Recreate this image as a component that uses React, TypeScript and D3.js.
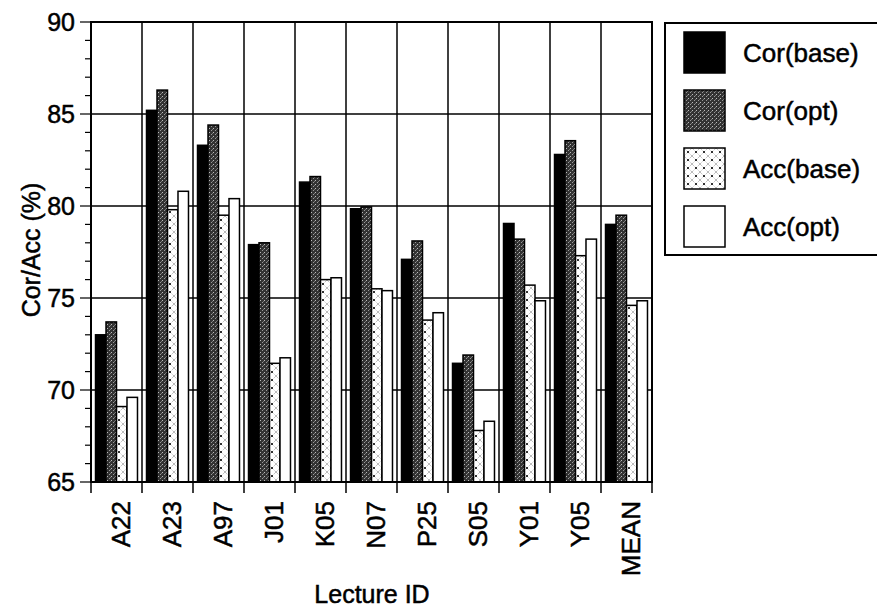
import React from "react";
import * as d3 from "d3";

const lectures = ["A22", "A23", "A97", "J01", "K05", "N07", "P25", "S05", "Y01", "Y05", "MEAN"];
const series = ["Cor(base)", "Cor(opt)", "Acc(base)", "Acc(opt)"];
const corBase = [73.0, 85.2, 83.3, 77.9, 81.3, 79.85, 77.1, 71.45, 79.05, 82.8, 79.0];
const corOpt = [73.7, 86.3, 84.4, 78.0, 81.6, 79.95, 78.1, 71.9, 78.2, 83.55, 79.5];
const accBase = [69.1, 79.8, 79.5, 71.45, 76.0, 75.5, 73.8, 67.8, 75.7, 77.3, 74.6];
const accOpt = [69.6, 80.8, 80.4, 71.75, 76.1, 75.4, 74.2, 68.3, 74.85, 78.2, 74.85];
const yTicks = [65, 70, 75, 80, 85, 90];

const values = [corBase, corOpt, accBase, accOpt];
const fills = ["#000", "url(#stipple)", "url(#xhatch)", "#fff"];

const W = 877;
const H = 607;
const m = { left: 91, right: 652, top: 22, bottom: 482 };
const font = "Liberation Sans, Arial, sans-serif";
// scanned text looks heavy, give it a thin outline
const ink = { fill: "#000", stroke: "#000", strokeWidth: 0.5 };

export default function App() {
  const x0 = d3.scaleBand().domain(lectures).range([m.left, m.right]).padding(0);
  const x1 = d3
    .scaleBand()
    .domain(series)
    .range([0, x0.bandwidth()])
    .paddingInner(0)
    .paddingOuter(0.43);
  const y = d3.scaleLinear().domain([65, 90]).range([m.bottom, m.top]);
  const minor = d3.range(65, 91, 1);
  const bounds = d3.range(0, lectures.length + 1).map((i) => m.left + i * x0.step());

  return (
    <svg
      width={W}
      height={H}
      style={{ position: "absolute", left: 0, top: 0, background: "#fff" }}
      fontFamily={font}
    >
      <defs>
        <pattern id="stipple" width="4" height="4" patternUnits="userSpaceOnUse">
          <rect width="4" height="4" fill="#333" />
          <rect x="0" y="0" width="1" height="1" fill="#bbb" />
          <rect x="2" y="2" width="1" height="1" fill="#999" />
          <rect x="3" y="1" width="1" height="1" fill="#777" />
        </pattern>
        <pattern id="xhatch" width="8" height="8" patternUnits="userSpaceOnUse">
          <rect width="8" height="8" fill="#fff" />
          <path d="M0,0 L8,8 M8,0 L0,8" stroke="#888" strokeWidth="0.8" strokeDasharray="1,1" />
          <circle cx="4" cy="4" r="1" fill="#000" />
        </pattern>
      </defs>

      {/* gridlines */}
      {yTicks.slice(1, -1).map((t) => (
        <line key={"h" + t} x1={m.left} x2={m.right} y1={y(t)} y2={y(t)} stroke="#000" strokeWidth={1.5} />
      ))}
      {bounds.slice(1, -1).map((bx, i) => (
        <line key={"v" + i} x1={bx} x2={bx} y1={m.top} y2={m.bottom} stroke="#000" strokeWidth={1.5} />
      ))}

      {/* bars */}
      {lectures.map((lec, i) => (
        <g key={lec} transform={`translate(${x0(lec)},0)`}>
          {series.map((s, j) => (
            <rect
              key={s}
              x={x1(s)}
              y={y(values[j][i])}
              width={x1.bandwidth()}
              height={m.bottom - y(values[j][i])}
              fill={fills[j]}
              stroke="#000"
              strokeWidth={1.5}
            />
          ))}
        </g>
      ))}

      {/* frame */}
      <rect
        x={m.left}
        y={m.top}
        width={m.right - m.left}
        height={m.bottom - m.top}
        fill="none"
        stroke="#000"
        strokeWidth={2}
      />

      {/* y axis ticks */}
      {minor.map((t) => (
        <line
          key={"mt" + t}
          x1={t % 5 === 0 ? 80 : 85}
          x2={m.left}
          y1={y(t)}
          y2={y(t)}
          stroke="#000"
          strokeWidth={1.2}
        />
      ))}
      {yTicks.map((t) => (
        <text key={"yl" + t} x={75} y={y(t)} dy="0.36em" textAnchor="end" fontSize={25} {...ink}>
          {t}
        </text>
      ))}

      {/* x axis ticks */}
      {bounds.map((bx, i) => (
        <line key={"xt" + i} x1={bx} x2={bx} y1={m.bottom} y2={m.bottom + 11} stroke="#000" strokeWidth={1.5} />
      ))}
      {lectures.map((lec) => (
        <text
          key={"xl" + lec}
          transform={`translate(${(x0(lec) as number) + x0.bandwidth() / 2 + 13},501) rotate(-90)`}
          textAnchor="end"
          fontSize={26}
          {...ink}
        >
          {lec}
        </text>
      ))}

      {/* axis titles */}
      <text transform="translate(40,250) rotate(-90)" textAnchor="middle" fontSize={25} {...ink}>
        Cor/Acc (%)
      </text>
      <text x={372} y={603} textAnchor="middle" fontSize={25} {...ink}>
        Lecture ID
      </text>

      {/* legend */}
      <rect x={665} y={23} width={230} height={232} fill="#fff" stroke="#000" strokeWidth={2} />
      {series.map((s, j) => (
        <g key={"lg" + s} transform={`translate(684,${32 + j * 58})`}>
          <rect width={41} height={41} fill={fills[j]} stroke="#000" strokeWidth={1.5} />
          <text x={59} y={20.5} dy="0.36em" fontSize={26} {...ink}>
            {s}
          </text>
        </g>
      ))}
    </svg>
  );
}
